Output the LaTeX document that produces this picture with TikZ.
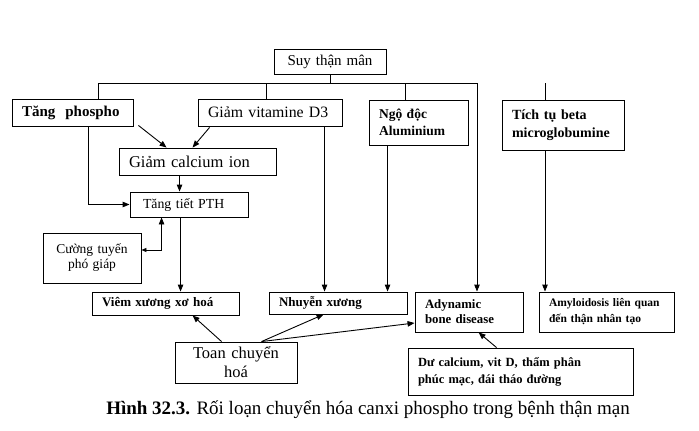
\documentclass[tikz,border=0pt]{standalone}
\usepackage{fontspec}
\setmainfont{Liberation Serif}
\usetikzlibrary{arrows.meta,calc}
\begin{document}
\begin{tikzpicture}[x=1pt,y=-1pt,
  box/.style={draw, line width=0.9pt, inner ysep=0pt, inner xsep=10pt, align=left},
  cbox/.style={draw, line width=0.9pt, inner ysep=0pt, inner xsep=4pt, align=center},
  ln/.style={line width=0.9pt},
  arr/.style={line width=0.9pt, -{Triangle[length=7pt,width=5.5pt]}},
  darr/.style={line width=0.9pt, {Triangle[length=7pt,width=5.5pt]}-{Triangle[length=5pt,width=4pt]}}]
\fill[white] (0,0) rectangle (699,431);
\useasboundingbox (0,0) rectangle (699,431);
% nodes
\node[cbox, minimum width=112pt, minimum height=25pt, text width=104pt, font=\fontsize{15}{17}\selectfont] (suy) at (330,61.5) {Suy thận mân};
\node[box, minimum width=121pt, minimum height=27pt, text width=101pt, font=\fontsize{15}{17}\selectfont\bfseries] (tp) at (72.5,112.5) {Tăng\ \ phospho};
\node[box, minimum width=144pt, minimum height=27pt, text width=124pt, font=\fontsize{15.8}{17}\selectfont] (gvd) at (270,112.5) {Giảm vitamine D3};
\node[box, minimum width=99pt, minimum height=45pt, text width=79pt, font=\fontsize{13.5}{17}\selectfont\bfseries] (ngo) at (418.5,122.5) {Ngộ độc\\Aluminium};
\node[box, minimum width=122pt, minimum height=50pt, text width=102pt, font=\fontsize{14}{18}\selectfont\bfseries] (tich) at (563,125) {Tích tụ beta\\microglobumine};
\node[box, minimum width=157pt, minimum height=27pt, text width=137pt, font=\fontsize{16.5}{17}\selectfont] (gca) at (197.5,161.5) {Giảm calcium ion};
\node[box, inner xsep=13pt, minimum width=118pt, minimum height=25pt, text width=92pt, font=\fontsize{13.8}{15}\selectfont] (pth) at (189,204.5) {Tăng tiết PTH};
\node[cbox, minimum width=98pt, minimum height=50pt, text width=90pt, font=\fontsize{13.5}{15}\selectfont] (cuong) at (92,258) {Cường tuyến\\phó giáp};
\node[box, minimum width=147pt, minimum height=23pt, text width=127pt, font=\fontsize{13}{15}\selectfont\bfseries] (viem) at (165.5,303.5) {Viêm xương xơ hoá};
\node[box, minimum width=138pt, minimum height=22pt, text width=118pt, font=\fontsize{13}{15}\selectfont\bfseries] (nhuyen) at (338,303) {Nhuyễn xương};
\node[box, minimum width=108pt, minimum height=40pt, text width=88pt, font=\fontsize{12.8}{15}\selectfont\bfseries] (ady) at (469,312) {Adynamic\\bone disease};
\node[box, minimum width=135pt, minimum height=40pt, text width=115pt, font=\fontsize{11.5}{16}\selectfont\bfseries] (amy) at (606.5,312) {Amyloidosis liên quan\\đến thận nhân tạo};
\node[cbox, minimum width=122pt, minimum height=41pt, text width=114pt, font=\fontsize{16.5}{19}\selectfont] (toan) at (236,362.5) {Toan chuyển\\hoá};
\node[box, minimum width=225pt, minimum height=47pt, text width=205pt, font=\fontsize{12.5}{17}\selectfont\bfseries] (du) at (520.5,371.5) {Dư calcium, vit D, thẩm phân\\phúc mạc, đái tháo đường};
\node[font=\fontsize{19}{22}\selectfont] (cap) at (368,410) {\textbf{Hình 32.3.} Rối loạn chuyển hóa canxi phospho trong bệnh thận mạn};
% tree from Suy than
\coordinate (j0) at (330,83);
\coordinate (jL) at (98,83);
\coordinate (jG) at (266,83);
\coordinate (jN) at (405,83);
\coordinate (jA) at (477,83);
\coordinate (jT) at (545,83);
\draw[ln] (suy.south -| j0) -- (j0);
\draw[ln] (jL) -- (jA);
\draw[ln] (jL) -- (jL |- tp.north);
\draw[ln] (jG) -- (jG |- gvd.north);
\draw[ln] (jN) -- (jN |- ngo.north);
\draw[ln] (jT) -- (jT |- tich.north);
\draw[arr] (jA) -- (jA |- ady.north);
\draw[arr] (jT |- tich.south) -- (jT |- amy.north);
% left column
\draw[arr] ([xshift=5pt,yshift=1pt]tp.south east) -- ([xshift=48pt]gca.north west);
\draw[arr] ([xshift=12pt,yshift=-1pt]gvd.south west) -- ([xshift=74pt]gca.north west);
\coordinate (c1) at ([xshift=61pt]gca.south west);
\draw[arr] (c1) -- (c1 |- pth.north);
\coordinate (t1) at ([xshift=77pt]tp.south west);
\draw[arr] (t1) |- (pth.west);
\coordinate (p1) at ([xshift=32pt]pth.south west);
\draw[darr] (p1) |- ([yshift=8pt]cuong.east);
\coordinate (p2) at ([xshift=51pt]pth.south west);
\draw[arr] (p2) -- (p2 |- viem.north);
\coordinate (g1) at ([xshift=127pt]gvd.south west);
\draw[arr] (g1) -- (g1 |- nhuyen.north);
\coordinate (n1) at ([xshift=19pt]ngo.south west);
\draw[arr] (n1) -- (n1 |- nhuyen.north);
% bottom
\draw[arr] ([xshift=47pt]toan.north west) -- ([xshift=101pt]viem.south west);
\draw[arr] ([xshift=87pt]toan.north west) -- ([xshift=55pt]nhuyen.south west);
\draw[arr] ([xshift=87pt]toan.north west) -- ([yshift=-11pt]ady.west);
\draw[arr] ([xshift=89pt]du.north west) -- ([xshift=64pt]ady.south west);
\end{tikzpicture}
\end{document}
